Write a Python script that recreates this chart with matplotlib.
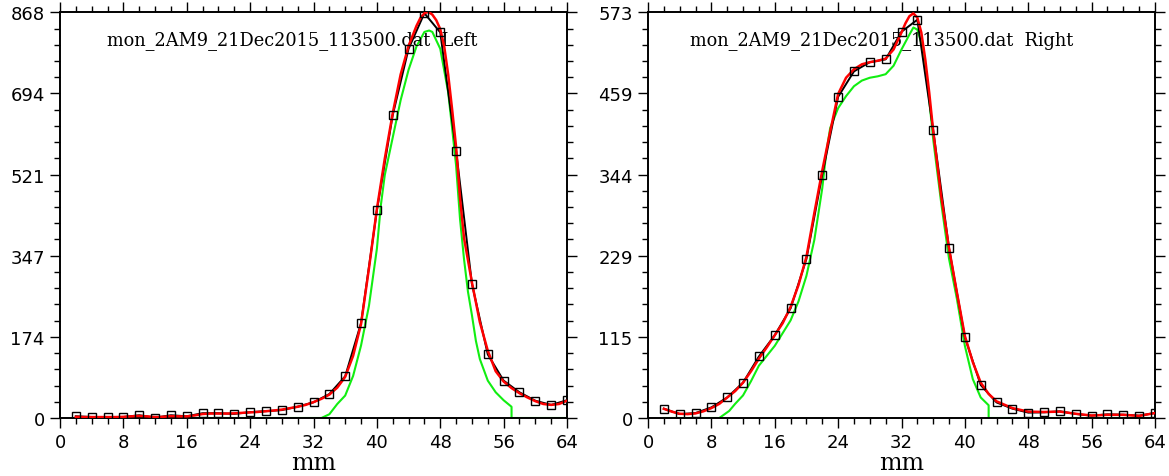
import numpy as np
import matplotlib
matplotlib.use('Agg')
import matplotlib.pyplot as plt
from matplotlib.ticker import MultipleLocator, FixedLocator

# measured points (2 mm steps)
pos = np.arange(2, 65, 2)
left_data = [3.7, 2.2, 2.2, 2.2, 5.9, 0.7, 5.9, 3.7, 10.3, 10.3, 8.8, 12.5, 14.7, 16.9,
             24.2, 33.6, 51.3, 89.2, 203, 444, 648, 790, 866, 825, 572, 287, 136, 80,
             55, 37, 28, 38]
right_data = [13.2, 5.5, 7, 15, 29, 50, 87, 117, 155, 225, 344, 454, 490, 503, 507, 546,
              563, 407, 240, 114, 46.6, 22, 13.2, 7.6, 8, 9.5, 5.7, 3.3, 5.2, 4.7, 3.3, 7.1]

# red fit curves
left_fit_x = [2, 3, 4, 5, 6, 7, 8, 9, 10, 11, 12, 13, 14, 15, 16, 17, 18, 19, 20, 21, 22,
              23, 24, 25, 26, 27, 28, 29, 30, 31, 32, 33, 34, 35, 36, 37, 38, 39, 40, 41,
              42, 43, 44, 45, 45.5, 46, 46.5, 47, 47.5, 48, 48.5, 49, 49.5, 50, 50.5, 51,
              52, 53, 54, 55, 56, 57, 58, 59, 60, 61, 62, 63, 64]
left_fit = [2.5, 2, 2, 2, 2, 2, 2.5, 3.5, 4.5, 3.5, 2, 2.5, 4, 3.5, 3.5, 5.5, 8.5, 9.5, 9.5,
            9.5, 10, 11, 12, 13, 14.5, 16, 18, 21, 24, 28, 34, 41, 50, 65, 88, 133, 201,
            320, 447, 555, 652, 735, 796, 839, 856, 866, 869, 863, 851, 832, 795, 735, 660,
            580, 470, 385, 290, 205, 144, 100, 78, 64, 53, 44, 36, 30, 28, 30, 37]
right_fit_x = [2, 3, 4, 5, 6, 7, 8, 9, 10, 11, 12, 13, 14, 15, 16, 17, 18, 19, 20, 21, 22,
               23, 24, 25, 26, 27, 28, 29, 30, 31, 32, 32.5, 33, 33.5, 34, 34.5, 35, 35.5,
               36, 37, 38, 39, 40, 41, 42, 43, 44, 46, 48, 50, 52, 54, 56, 58, 60, 62, 64]
right_fit = [13, 9, 6, 5.5, 6.5, 9.5, 14, 20, 29, 38, 50, 66, 84, 100, 117, 134, 157, 188,
             228, 290, 350, 405, 458, 481, 493, 500, 503, 505, 508, 521, 545, 558, 568,
             572, 566, 545, 507, 460, 406, 314, 240, 177, 116, 79, 50, 34, 23.6, 14, 9,
             8.5, 9, 6, 3.5, 4.5, 4.5, 3, 7]

# green model curves
left_model_x = [2, 33, 34, 34.5, 35, 36, 37, 38, 39, 40, 40.5, 41, 42, 43, 44, 45, 46, 46.6,
                47, 48, 49, 49.5, 50, 50.5, 51, 51.5, 52, 52.5, 53, 54, 55, 56, 57, 57, 64]
left_model = [0, 0, 8, 19, 30, 48, 90, 155, 240, 362, 455, 520, 600, 680, 745, 795, 826, 829,
              826, 790, 697, 620, 540, 425, 340, 270, 220, 165, 126, 80, 55, 38, 24, 0, 0]
right_model_x = [2, 9, 10.25, 11, 12, 13, 14, 15, 16, 17, 18, 19, 20, 21, 22, 22.5, 23, 24,
                 25, 26, 27, 28, 29, 30, 31, 32, 33, 33.5, 34, 34.5, 35, 35.5, 36, 37, 38,
                 39, 40, 41, 42, 43, 43, 64]
right_model = [0, 0, 10, 20, 32, 52, 74, 88, 102, 120, 138, 165, 201, 252, 325, 375, 410,
               438, 455, 469, 477, 481, 483, 486, 498, 521, 542, 552, 549, 530, 498, 450,
               394, 305, 225, 168, 102, 55, 29, 18, 0, 0]

left_ymax = 868
right_ymax = 573.5
left_ylabels = ['0', '174', '347', '521', '694', '868']
right_ylabels = ['0', '115', '229', '344', '459', '573']
titles = ['mon_2AM9_21Dec2015_113500.dat  Left', 'mon_2AM9_21Dec2015_113500.dat  Right']

fig = plt.figure(figsize=(11.69, 4.77), dpi=100)
ax_l = fig.add_axes([60 / 1169, 58 / 477, 507 / 1169, 405.7 / 477])
ax_r = fig.add_axes([648 / 1169, 58 / 477, 507 / 1169, 405.7 / 477])

panels = [
    (ax_l, left_data, left_fit_x, left_fit, left_model_x, left_model, left_ymax, left_ylabels, titles[0], 0.093),
    (ax_r, right_data, right_fit_x, right_fit, right_model_x, right_model, right_ymax, right_ylabels, titles[1], 0.083),
]

for ax, data, fx, fy, mx, my, ymax, ylabels, title, tx in panels:
    ax.plot(mx, my, color='#11ee11', lw=1.5, zorder=2)
    ax.plot(pos, data, color='black', lw=1.4, zorder=3)
    ax.plot(fx, fy, color='#ff0000', lw=1.8, zorder=4)
    ax.plot(pos, data, ls='none', marker='s', ms=5.2, mfc='none', mec='black', mew=1.0, zorder=5)

    ax.set_xlim(0, 64)
    ax.set_ylim(0, ymax)
    ax.xaxis.set_major_locator(MultipleLocator(8))
    ax.xaxis.set_minor_locator(MultipleLocator(2))
    yt = np.linspace(0, ymax, 6)
    ax.yaxis.set_major_locator(FixedLocator(yt))
    ax.yaxis.set_minor_locator(FixedLocator(np.linspace(0, ymax, 26)))
    ax.set_yticklabels(ylabels)
    ax.tick_params(which='both', direction='out', top=True, right=True,
                   labeltop=False, labelright=False, width=1.0, labelsize=13)
    ax.tick_params(which='major', length=7, pad=4)
    ax.tick_params(which='minor', length=4)
    for s in ax.spines.values():
        s.set_linewidth(1.4)
    for lab in ax.get_xticklabels() + ax.get_yticklabels():
        lab.set_fontfamily('DejaVu Sans')

    ax.set_xlabel('mm', fontfamily='DejaVu Serif', fontsize=17, labelpad=0)
    ax.text(tx, 0.934, title, transform=ax.transAxes, va='center', ha='left',
            fontfamily='DejaVu Serif', fontsize=12.8)

fig.savefig('out.png', dpi=100)
